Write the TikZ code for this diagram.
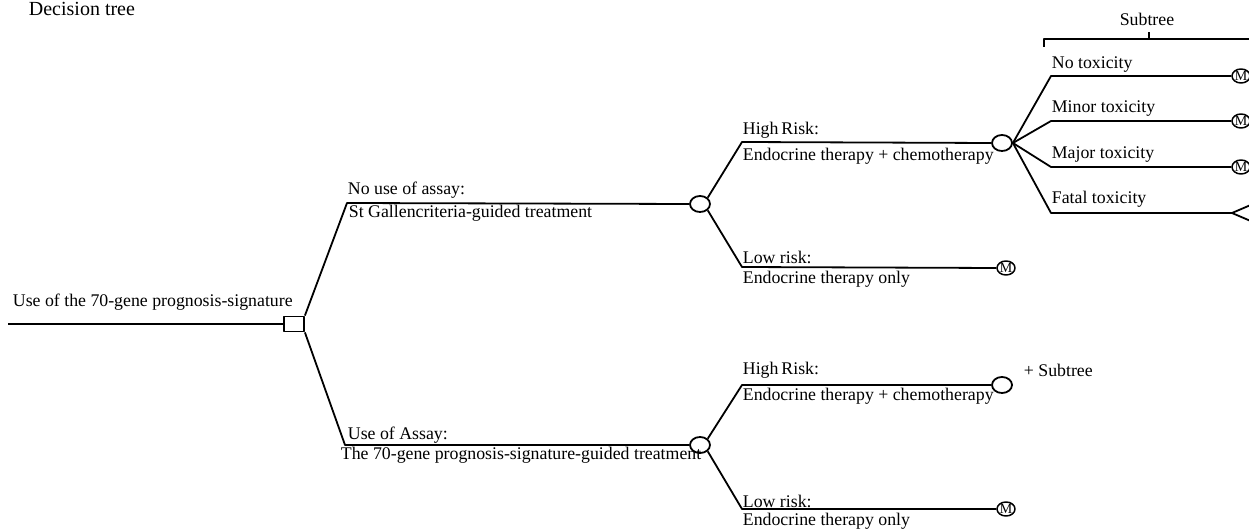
\documentclass[tikz,border=0pt]{standalone}
\usepackage{fontspec}
\setmainfont{Liberation Serif}
\usetikzlibrary{shapes.geometric}
\begin{document}
\begin{tikzpicture}[line join=bevel,line width=1.8bp,
  font=\fontsize{17.8bp}{20bp}\selectfont,
  decision/.style={draw=black,rectangle,minimum width=20bp,minimum height=15bp,inner sep=0pt},
  chance/.style={draw=black,ellipse,minimum width=20bp,minimum height=16bp,inner sep=0pt},
  payoff/.style={draw=black,ellipse,minimum width=18bp,minimum height=14bp,inner sep=-1bp,line width=1.5bp,font=\fontsize{14bp}{14bp}\selectfont},
  lbl/.style={anchor=base west,inner sep=0pt}]
\useasboundingbox (0bp,0bp) rectangle (1249bp,529bp);
%%
\node (title) at (28bp,513bp) [lbl,font=\fontsize{20bp}{22bp}\selectfont] {Decision tree};
  \coordinate (root) at (8bp,205bp);
  \node (use_sig) at (294bp,205bp) [decision] {};
  \coordinate (bend_noassay) at (347bp,326bp);
  \coordinate (bend_assay) at (345bp,84bp);
  \node (chance_1) at (700bp,325bp) [chance] {};
  \node (chance_2) at (700bp,84bp) [chance] {};
  \coordinate (bend_high_1) at (742bp,387bp);
  \coordinate (bend_low_1) at (742bp,262bp);
  \node (chance_3) at (1002bp,386bp) [chance] {};
  \node (m_low_1) at (1006bp,261bp) [payoff] {M};
  \coordinate (bend_high_2) at (742bp,144bp);
  \coordinate (bend_low_2) at (742bp,20bp);
  \node (chance_4) at (1002bp,144bp) [chance] {};
  \node (m_low_2) at (1006bp,20bp) [payoff] {M};
  \coordinate (bend_notox) at (1051bp,453bp);
  \coordinate (bend_minor) at (1051bp,408bp);
  \coordinate (bend_major) at (1051bp,362bp);
  \coordinate (bend_fatal) at (1051bp,316bp);
  \node (m_notox) at (1241bp,453bp) [payoff] {M};
  \node (m_minor) at (1241bp,408bp) [payoff] {M};
  \node (m_major) at (1241bp,362bp) [payoff] {M};
  \coordinate (fatal_end) at (1232bp,316bp);
  \coordinate (fatal_up) at (1260bp,328bp);
  \coordinate (fatal_down) at (1260bp,304bp);
  \coordinate (brace_left) at (1044bp,482bp);
  \coordinate (brace_corner) at (1044bp,490bp);
  \coordinate (brace_right) at (1260bp,490bp);
  \coordinate (brace_mid) at (1149bp,490bp);
  \coordinate (brace_tip) at (1149bp,497bp);
  \node (subtree) at (1147bp,503bp) [anchor=base,inner sep=0pt] {Subtree};
  % labels
  \node (l_use_sig) at (12bp,222bp) [lbl] {Use of the 70-gene prognosis-signature};
  \node (l_noassay) at (347bp,334bp) [lbl] {No use of assay:};
  \node (l_stgallen) at (348bp,311bp) [lbl] {St Gallencriteria-guided treatment};
  \node (l_high_1) at (742bp,394bp) [lbl] {High\,Risk:};
  \node (l_chemo_1) at (742bp,368bp) [lbl] {Endocrine therapy + chemotherapy};
  \node (l_low_1) at (742bp,265bp) [lbl] {Low risk:};
  \node (l_endo_1) at (742bp,245bp) [lbl] {Endocrine therapy only};
  \node (l_notox) at (1051bp,460bp) [lbl] {No toxicity};
  \node (l_minor) at (1051bp,416bp) [lbl] {Minor toxicity};
  \node (l_major) at (1051bp,370bp) [lbl] {Major toxicity};
  \node (l_fatal) at (1051bp,325bp) [lbl] {Fatal toxicity};
  \node (l_assay) at (347bp,89bp) [lbl] {Use of Assay:};
  \node (l_sigguided) at (340bp,69bp) [lbl] {The 70-gene prognosis-signature-guided treatment};
  \node (l_high_2) at (742bp,154bp) [lbl] {High\,Risk:};
  \node (l_chemo_2) at (742bp,128bp) [lbl] {Endocrine therapy + chemotherapy};
  \node (l_subtree_2) at (1023bp,152bp) [lbl] {+ Subtree};
  \node (l_low_2) at (742bp,22bp) [lbl] {Low risk:};
  \node (l_endo_2) at (742bp,4bp) [lbl] {Endocrine therapy only};
  % branches
  \draw [solid] (root) -- (use_sig.west);
  \draw [solid] (use_sig.north east) -- (bend_noassay) -- (chance_1.west);
  \draw [solid] (use_sig.south east) -- (bend_assay) -- (chance_2.west);
  \draw [solid] (chance_1.north east) -- (bend_high_1) -- (chance_3.west);
  \draw [solid] (chance_1.south east) -- (bend_low_1) -- (m_low_1.west);
  \draw [solid] (chance_2.north east) -- (bend_high_2) -- (chance_4.west);
  \draw [solid] (chance_2.south east) -- (bend_low_2) -- (m_low_2.west);
  \draw [solid] (chance_3.east) -- (bend_notox) -- (m_notox.west);
  \draw [solid] (chance_3.east) -- (bend_minor) -- (m_minor.west);
  \draw [solid] (chance_3.east) -- (bend_major) -- (m_major.west);
  \draw [solid] (chance_3.east) -- (bend_fatal) -- (fatal_end);
  \draw [solid] (fatal_up) -- (fatal_end) -- (fatal_down);
  \draw [solid] (brace_left) -- (brace_corner) -- (brace_right);
  \draw [solid] (brace_mid) -- (brace_tip);
%
\end{tikzpicture}
\end{document}
